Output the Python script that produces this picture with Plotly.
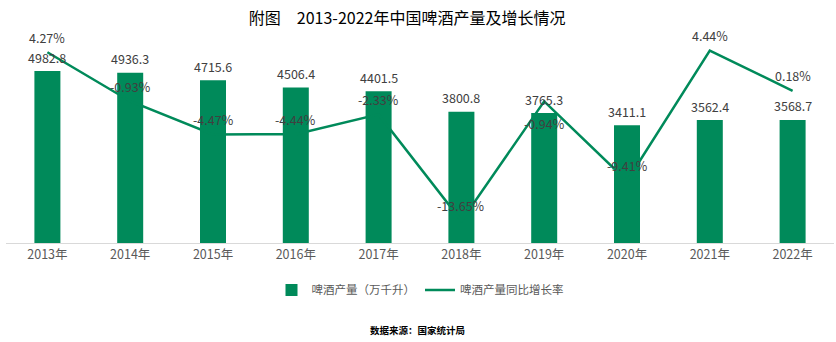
import plotly.graph_objects as go

years = ["2013年", "2014年", "2015年", "2016年", "2017年", "2018年", "2019年", "2020年", "2021年", "2022年"]
output = [4982.8, 4936.3, 4715.6, 4506.4, 4401.5, 3800.8, 3765.3, 3411.1, 3562.4, 3568.7]
growth = [4.27, -0.93, -4.47, -4.44, -2.33, -13.65, -0.94, -9.41, 4.44, 0.18]

GREEN = "#008A5A"
FONT = "Noto Sans CJK SC"

fig = go.Figure()
fig.add_trace(go.Bar(
    x=years, y=output, name="啤酒产量（万千升）",
    marker=dict(color=GREEN, line=dict(width=0)),
    yaxis="y",
))
fig.add_trace(go.Scatter(
    x=years, y=growth, name="啤酒产量同比增长率",
    mode="lines", line=dict(color=GREEN, width=2.5),
    yaxis="y2",
))

# label placed below its point to avoid the bar label (as in the reference)
below_label_year = "2019年"

annotations = []
for yr, v in zip(years, output):
    annotations.append(dict(
        x=yr, y=v, xref="x", yref="y", text=f"{v:.1f}", showarrow=False,
        yshift=14, font=dict(size=12.5, color="#404040", family=FONT),
    ))
for yr, g in zip(years, growth):
    annotations.append(dict(
        x=yr, y=g, xref="x", yref="y2", text=f"{g:.2f}%", showarrow=False,
        yshift=-22 if yr == below_label_year else 15,
        font=dict(size=12.5, color="#404040", family=FONT),
    ))
annotations.append(dict(
    x=0.497, y=-0.42, xref="paper", yref="paper", text="<b>数据来源：国家统计局</b>",
    showarrow=False, xanchor="center", yanchor="middle",
    font=dict(size=9.5, color="#000000", family=FONT),
))

fig.update_layout(
    width=836, height=342,
    margin=dict(l=6, r=2, t=36, b=99),
    paper_bgcolor="white", plot_bgcolor="white",
    font=dict(family=FONT, color="#595959"),
    title=dict(text="附图\u30002013-2022年中国啤酒产量及增长情况", x=0.487, xanchor="center",
               y=0.947, yanchor="middle", font=dict(size=16, color="#000000", family=FONT)),
    bargap=0.686,
    xaxis=dict(showline=True, linecolor="#D9D9D9", linewidth=1, ticks="", showgrid=False,
               tickfont=dict(size=12.5, color="#595959", family=FONT)),
    yaxis=dict(range=[0, 6000], visible=False, showgrid=False, zeroline=False),
    yaxis2=dict(range=[-16, 6], overlaying="y", side="right", visible=False,
                showgrid=False, zeroline=False),
    legend=dict(orientation="h", x=0.5, xanchor="center", y=-0.227, yanchor="middle",
                font=dict(size=11.5, color="#595959", family=FONT), itemwidth=30),
    annotations=annotations,
    showlegend=True,
)

fig.write_html("out.html")
